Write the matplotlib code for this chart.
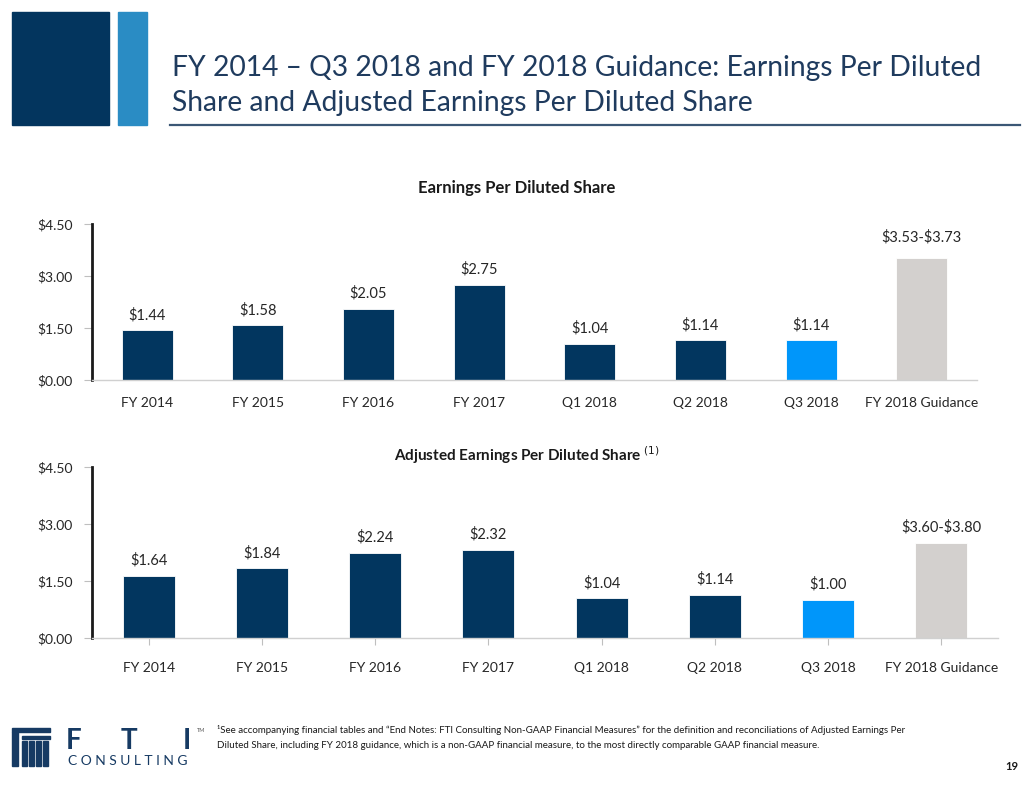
import matplotlib.pyplot as plt
from matplotlib.patches import Rectangle

categories = ["FY 2014", "FY 2015", "FY 2016", "FY 2017",
              "Q1 2018", "Q2 2018", "Q3 2018", "FY 2018 Guidance"]
eps_values = [1.44, 1.58, 2.05, 2.75, 1.04, 1.14, 1.14, 3.53]
eps_labels = ["$1.44", "$1.58", "$2.05", "$2.75", "$1.04", "$1.14", "$1.14", "$3.53-$3.73"]
adj_values = [1.64, 1.84, 2.24, 2.32, 1.04, 1.14, 1.00, 2.50]
adj_labels = ["$1.64", "$1.84", "$2.24", "$2.32", "$1.04", "$1.14", "$1.00", "$3.60-$3.80"]
yticks = [0, 1.5, 3.0, 4.5]
ytick_labels = ["$0.00", "$1.50", "$3.00", "$4.50"]

NAVY = "#02365F"
BRIGHT = "#0096FA"
GREY = "#D3D0CE"
TXT = "#262626"
bar_colors = [NAVY] * 6 + [BRIGHT, GREY]

W, H = 1032, 792
plt.rcParams["font.family"] = ["Lato", "DejaVu Sans"]


def px_axes(fig, x0, x1, ytop, ybot):
    return fig.add_axes([x0 / W, (H - ybot) / H, (x1 - x0) / W, (ybot - ytop) / H])


def bar_chart(ax, values, labels, xticks_on, label_pad):
    x = range(len(categories))
    ax.bar(x, values, width=0.46, color=bar_colors, edgecolor="white", linewidth=0.6)
    ax.set_xlim(-0.5, len(categories) - 0.5)
    ax.set_ylim(0, 4.5)
    ax.set_yticks(yticks)
    ax.set_yticklabels(ytick_labels, fontsize=10, color=TXT)
    ax.set_xticks(list(x))
    ax.set_xticklabels(categories, fontsize=10, color=TXT)
    for s in ["top", "right"]:
        ax.spines[s].set_visible(False)
    ax.spines["left"].set_color("#1a1a1a")
    ax.spines["left"].set_linewidth(2)
    ax.spines["bottom"].set_color("#D0D0D0")
    ax.spines["bottom"].set_linewidth(1)
    ax.tick_params(axis="y", length=6, color="#BFBFBF", pad=8)
    if xticks_on:
        ax.tick_params(axis="x", length=5, color="#BFBFBF", pad=12)
    else:
        ax.tick_params(axis="x", length=0, pad=12)
    for i, (v, lab) in enumerate(zip(values, labels)):
        pad = label_pad[i] if isinstance(label_pad, list) else label_pad
        ax.annotate(lab, (i, v), xytext=(0, pad), textcoords="offset points",
                    ha="center", va="center", fontsize=10.5, color=TXT,
                    parse_math=False)
    ax.patch.set_alpha(0)


fig = plt.figure(figsize=(W / 100, H / 100), dpi=100)

# header
fig.patches.append(Rectangle((12 / W, 1 - 125 / H), 97 / W, 113 / H,
                             transform=fig.transFigure, color="#03355E"))
fig.patches.append(Rectangle((118 / W, 1 - 125 / H), 29 / W, 113 / H,
                             transform=fig.transFigure, color="#2A8CC4"))
fig.add_artist(plt.Line2D([170 / W, 1020 / W], [1 - 125 / H, 1 - 125 / H],
                          color="#3B5775", lw=1.6))
fig.text(172 / W, 1 - 68 / H, "FY 2014 \u2013 Q3 2018 and FY 2018 Guidance: Earnings Per Diluted",
         fontsize=20.3, color="#1F3B5E", va="center", ha="left")
fig.text(172 / W, 1 - 103 / H, "Share and Adjusted Earnings Per Diluted Share",
         fontsize=20.3, color="#1F3B5E", va="center", ha="left")

# charts
ax1 = px_axes(fig, 92, 977, 224, 380)
bar_chart(ax1, eps_values, eps_labels, False, [11] * 7 + [15])
fig.text(517 / W, 1 - 188 / H, "Earnings Per Diluted Share", fontsize=12,
         fontweight="bold", color="#1a1a1a", ha="center", va="center")

ax2 = px_axes(fig, 92, 998, 467, 638)
bar_chart(ax2, adj_values, adj_labels, True, 11)
fig.text(527 / W, 1 - 455 / H, "Adjusted Earnings Per Diluted Share $^{(1)}$", fontsize=11,
         fontweight="bold", color="#1a1a1a", ha="center", va="center")

# footnote
fig.text(217 / W, 1 - 730 / H,
         "\u00b9See accompanying financial tables and \u201cEnd Notes: FTI Consulting Non-GAAP Financial Measures\u201d "
         "for the definition and reconciliations of Adjusted Earnings Per",
         fontsize=7, color="#1a1a1a", ha="left", va="center")
fig.text(217 / W, 1 - 745 / H,
         "Diluted Share, including FY 2018 guidance, which is a non-GAAP financial measure, "
         "to the most directly comparable GAAP financial measure.",
         fontsize=7, color="#1a1a1a", ha="left", va="center")
fig.text(1018 / W, 1 - 767 / H, "19", fontsize=8, fontweight="bold", color="#1a1a1a",
         ha="right", va="center")

# logo
logo = "#163A63"
fig.patches.append(Rectangle((12 / W, 1 - 732 / H), 38 / W, 4 / H,
                             transform=fig.transFigure, color=logo))
fig.patches.append(Rectangle((12 / W, 1 - 766 / H), 6 / W, 34 / H,
                             transform=fig.transFigure, color=logo))
fig.patches.append(Rectangle((22 / W, 1 - 739 / H), 28 / W, 3 / H,
                             transform=fig.transFigure, color=logo))
for xc in [22, 29, 36, 43]:
    fig.patches.append(Rectangle((xc / W, 1 - 766 / H), 5 / W, 25 / H,
                                 transform=fig.transFigure, color=logo))
for lx, letter in [(74, "F"), (129, "T"), (187, "I")]:
    fig.text(lx / W, 1 - 741 / H, letter, fontsize=20, fontweight="bold",
             color=logo, ha="center", va="center")
fig.text(197 / W, 1 - 731 / H, "TM", fontsize=4, color="#555555", ha="left", va="center")
fig.text(68 / W, 1 - 761 / H, "C O N S U L T I N G", fontsize=10, color=logo,
         ha="left", va="center")

fig.savefig("out.png", dpi=100)
